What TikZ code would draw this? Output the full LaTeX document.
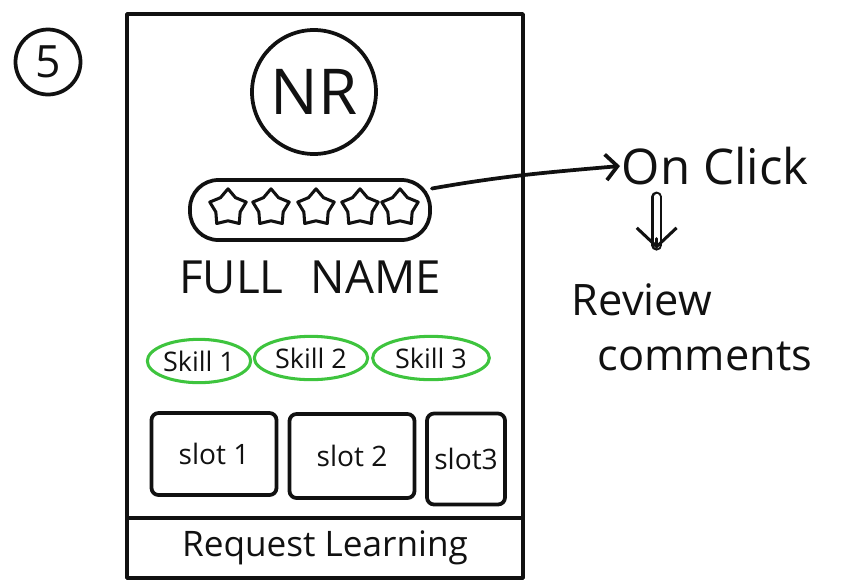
\documentclass[tikz,border=0pt]{standalone}
\usepackage{fontspec}
\setmainfont{Open Sans}
\usetikzlibrary{arrows.meta,positioning,shapes.geometric}
\definecolor{skillgreen}{HTML}{3EC43E}
\definecolor{inkblack}{HTML}{111111}

\begin{document}
\begin{tikzpicture}[
  x=0.03cm, y=-0.03cm,
  line width=3.2pt,
  line cap=round,
  line join=round,
  draw=inkblack,
  text=inkblack,
  >={Straight Barb[length=10pt,width=22pt]},
  frame/.style={
    draw,
    minimum width=11.88cm,
    minimum height=16.92cm,
    inner sep=0pt
  },
  avatar/.style={
    circle,
    draw,
    minimum size=3.72cm,
    font=\fontsize{54}{60}\selectfont
  },
  starpill/.style={
    draw,
    rounded corners=0.85cm,
    minimum width=7.2cm,
    minimum height=1.8cm
  },
  ratestar/.style={
    star,
    star points=5,
    draw,
    line width=2.6pt,
    minimum size=1.15cm,
    inner sep=0pt
  },
  skill/.style={
    ellipse,
    draw=skillgreen,
    line width=2.6pt,
    minimum width=3.1cm,
    minimum height=1.3cm,
    inner sep=0pt,
    font=\fontsize{23}{26}\selectfont
  },
  slotbox/.style={
    draw,
    rounded corners=6pt,
    inner sep=0pt,
    font=\fontsize{24}{28}\selectfont
  },
  note/.style={
    inner sep=0pt,
    font=\fontsize{37}{40}\selectfont
  }
]

  \useasboundingbox (0,0) rectangle (846,581);

  % Step number
  \node[circle, draw, minimum size=1.95cm, font=\fontsize{38}{40}\selectfont] (step) at (48,62) {5};

  % Phone frame with bottom bar
  \node[frame] (phone) at (325,296) {};
  \node[draw, anchor=south, minimum width=11.88cm, minimum height=1.8cm,
        font=\fontsize{30}{34}\selectfont] (request) at (phone.south) {Request Learning};

  % Profile picture, rating and name
  \node[avatar] (avatar) at (314,92) {NR};
  \node[starpill] (rating) at (310,210) {};
  \foreach \i/\x in {1/228, 2/271, 3/316, 4/360, 5/400}{
    \node[ratestar] (star\i) at (\x,208) {};
  }
  \node[font=\fontsize{39}{42}\selectfont] (fullname) at (310,277) {FULL\,\, NAME};

  % Skills
  \node[skill] (skill1) at (199,361) {Skill 1};
  \node[skill, minimum width=3.4cm] (skill2) at (311,358) {Skill 2};
  \node[skill, minimum width=3.5cm] (skill3) at (431,358) {Skill 3};

  % Slots
  \node[slotbox, minimum width=3.75cm, minimum height=2.46cm] (slot1) at (214,454) {slot 1};
  \node[slotbox, minimum width=3.75cm, minimum height=2.52cm] (slot2) at (352,456) {slot 2};
  \node[slotbox, minimum width=2.34cm, minimum height=2.73cm] (slot3) at (466,459) {slot3};

  % On click notes
  \node[note, font=\fontsize{42}{44}\selectfont, anchor=west] (click) at (620,166) {On Click};
  \node[note] (review) at (642,300) {Review};
  \node[note] (comments) at (705,356) {comments};

  \draw[->] (rating.10) to[out=10, in=185] (click.west);

  % Double arrow down to the review note
  \coordinate (downtop) at ([xshift=1.1cm, yshift=-0.3cm]click.south west);
  \coordinate (downtip) at ([yshift=1.0cm]downtop |- review.north);
  \draw[double, double distance=5pt, line width=2pt] (downtop) -- ([yshift=0.1cm]downtip);
  \draw[line width=2.6pt, -{Straight Barb[length=16pt,width=34pt]}] ([yshift=0.3cm]downtip) -- (downtip);

\end{tikzpicture}
\end{document}
